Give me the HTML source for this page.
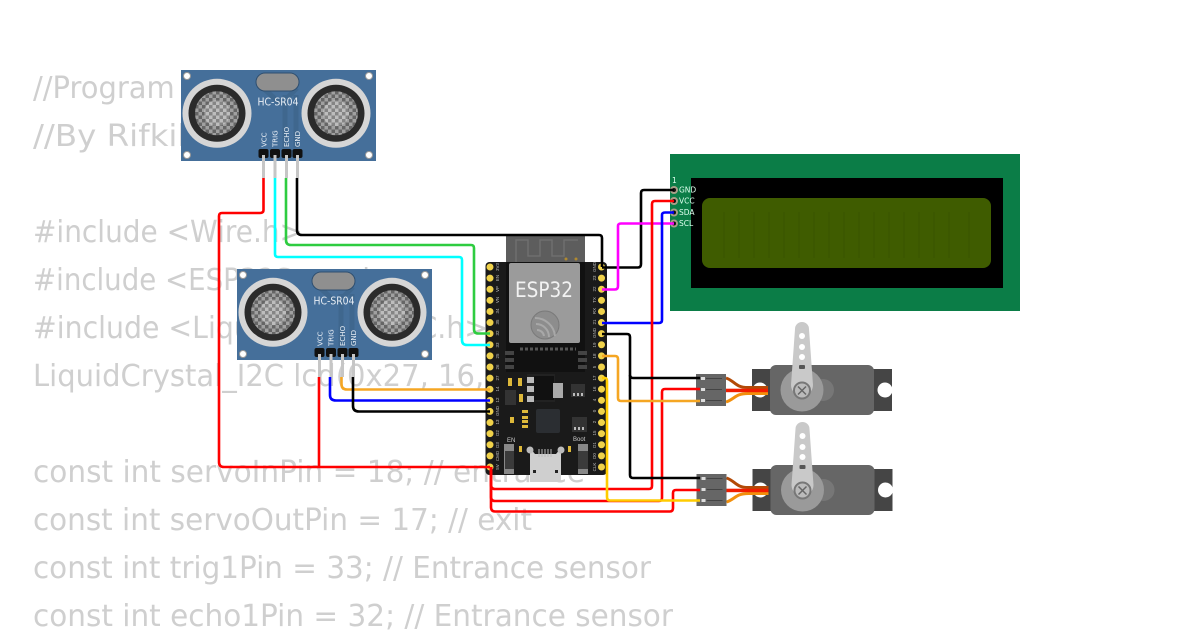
<!DOCTYPE html>
<html><head><meta charset="utf-8"><style>
html,body{margin:0;padding:0;background:#fff;width:1200px;height:630px;overflow:hidden}
svg{display:block}
.code{font-family:"DejaVu Sans",sans-serif;font-size:30px;fill:#cfcfcf}
.t{font-family:"Liberation Sans",sans-serif;fill:#ddd}
.d{font-family:"DejaVu Sans",sans-serif}
.w{fill:none;stroke-width:2.600;stroke-linejoin:round;stroke-linecap:butt}
</style></head><body>
<svg width="1200" height="630" viewBox="0 0 1200 630" xmlns="http://www.w3.org/2000/svg">
<defs>
<pattern id="mesh" width="7" height="7" patternUnits="userSpaceOnUse">
<rect width="7" height="7" fill="#a0a0a0"/><rect width="3.500" height="3.500" fill="#666"/><rect x="3.500" y="3.500" width="3.500" height="3.500" fill="#666"/>
</pattern>
<pattern id="mesh2" width="7" height="7" patternUnits="userSpaceOnUse">
<rect width="7" height="7" fill="#bdbdbd"/><rect width="3.500" height="3.500" fill="#858585"/><rect x="3.500" y="3.500" width="3.500" height="3.500" fill="#858585"/>
</pattern>
<g id="son">
<rect x="0" y="0" width="195" height="91" fill="#456f9a"/>
<path d="M82 18L100 34M116 18L104 30M115 25V78M104 25V78" stroke="#3f678e" stroke-width="5" fill="none"/>
<circle cx="6" cy="6" r="3.500" fill="#fff" stroke="#999"/><circle cx="188" cy="6" r="3.500" fill="#fff" stroke="#999"/>
<circle cx="6" cy="85" r="3.500" fill="#fff" stroke="#999"/><circle cx="188" cy="85" r="3.500" fill="#fff" stroke="#999"/>
<circle cx="36" cy="43.300" r="34.500" fill="#d6d6d6"/><circle cx="36" cy="43.300" r="28.500" fill="#2b2b2b"/><circle cx="36" cy="43.300" r="22" fill="url(#mesh)"/><circle cx="36" cy="43.300" r="13" fill="url(#mesh2)"/>
<circle cx="155" cy="43.300" r="34.500" fill="#d6d6d6"/><circle cx="155" cy="43.300" r="28.500" fill="#2b2b2b"/><circle cx="155" cy="43.300" r="22" fill="url(#mesh)"/><circle cx="155" cy="43.300" r="13" fill="url(#mesh2)"/>
<rect x="75" y="3" width="43" height="18" rx="9" fill="#8f8f8f" stroke="#2f4f70" stroke-width="1"/>
<rect x="77.500" y="79" width="10" height="9" rx="2" fill="#111"/><rect x="89" y="79" width="10" height="9" rx="2" fill="#111"/><rect x="100.500" y="79" width="10" height="9" rx="2" fill="#111"/><rect x="111.500" y="79" width="10" height="9" rx="2" fill="#111"/>
<rect x="81" y="85" width="3" height="23" fill="#c6c6c6"/><rect x="92.500" y="85" width="3" height="23" fill="#c6c6c6"/><rect x="104" y="85" width="3" height="23" fill="#c6c6c6"/><rect x="115" y="85" width="3" height="23" fill="#c6c6c6"/>
</g>
<g id="sv">
<rect x="752" y="369" width="140" height="42" fill="#454545"/>
<circle cx="760" cy="390" r="7.500" fill="#fff"/><circle cx="885" cy="390" r="7.500" fill="#fff"/>
<rect x="770" y="365" width="104" height="50" rx="6" fill="#666"/>
<circle cx="823" cy="390" r="11" fill="#777"/>
<circle cx="802" cy="390" r="21.500" fill="#9a9a9a"/>
<path d="M795 329a7 7 0 0 1 14 0L813 385a11 11 0 1 1-22 0Z" fill="#c9c9c9"/>
<circle cx="802" cy="336" r="3" fill="#fff"/><circle cx="802" cy="347" r="3" fill="#fff"/><circle cx="802" cy="357" r="3" fill="#fff"/>
<rect x="799" y="365" width="6" height="4" rx="1" fill="#555"/>
<circle cx="802" cy="390.500" r="8" fill="#bbb" stroke="#777" stroke-width="2"/>
<path d="M798 386.500L806 394.500M806 386.500L798 394.500" stroke="#666" stroke-width="1.500"/>
<path d="M726 378C735 381 735 387.500 748 387.500H768" fill="none" stroke="#b34a07" stroke-width="3"/>
<path d="M726 402C735 399 735 393.500 748 393.500H768" fill="none" stroke="#f28f0c" stroke-width="3"/>
<rect x="726" y="388.700" width="42" height="3.500" fill="#f01d00"/>
<rect x="696" y="374" width="30" height="32" fill="#666"/>
<rect x="701" y="377" width="4" height="3" fill="#ddd"/><rect x="701" y="388" width="4" height="3" fill="#ddd"/><rect x="701" y="399" width="4" height="3" fill="#ddd"/>
<path d="M706 378.500H722M706 389.500H722M706 400.500H722" stroke="#444" stroke-width="1"/>
</g>
</defs>

<text class="code" x="33" y="98" textLength="337" lengthAdjust="spacingAndGlyphs">//Program Parking Gate</text>
<text class="code" x="33" y="146" textLength="165" lengthAdjust="spacingAndGlyphs">//By Rifkih</text>
<text class="code" x="33" y="242" textLength="270" lengthAdjust="spacingAndGlyphs">#include &lt;Wire.h&gt;</text>
<text class="code" x="33" y="290" textLength="370" lengthAdjust="spacingAndGlyphs">#include &lt;ESP32Servo.h&gt;</text>
<text class="code" x="33" y="338" textLength="455" lengthAdjust="spacingAndGlyphs">#include &lt;LiquidCrystal_I2C.h&gt;</text>
<text class="code" x="33" y="386" textLength="500" lengthAdjust="spacingAndGlyphs">LiquidCrystal_I2C lcd(0x27, 16, 2);</text>
<text class="code" x="33" y="482" textLength="552" lengthAdjust="spacingAndGlyphs">const int servoInPin = 18; // entrance</text>
<text class="code" x="33" y="530" textLength="499" lengthAdjust="spacingAndGlyphs">const int servoOutPin = 17; // exit</text>
<text class="code" x="33" y="578" textLength="618" lengthAdjust="spacingAndGlyphs">const int trig1Pin = 33; // Entrance sensor</text>
<text class="code" x="33" y="626" textLength="640" lengthAdjust="spacingAndGlyphs">const int echo1Pin = 32; // Entrance sensor</text>

<!-- LCD -->
<rect x="670" y="154" width="350" height="157" fill="#0b7d47"/>
<rect x="691" y="178" width="312" height="110" fill="#000"/>
<rect x="702" y="198" width="289" height="70" rx="8" fill="#3f5c00"/>
<path d="M724 212V258M739 212V258M754 212V258M769 212V258M784 212V258M799 212V258M814 212V258M829 212V258M844 212V258M859 212V258M874 212V258M889 212V258M904 212V258M919 212V258M934 212V258M949 212V258M969 212V258" stroke="#3c5800" stroke-width="2"/>
<g fill="#a89f88"><circle cx="674" cy="190" r="4"/><circle cx="674" cy="201" r="4"/><circle cx="674" cy="212.500" r="4"/><circle cx="674" cy="223.500" r="4"/></g>
<g fill="#111"><circle cx="674" cy="190" r="2"/><circle cx="674" cy="201" r="2"/><circle cx="674" cy="212.500" r="2"/><circle cx="674" cy="223.500" r="2"/></g>
<g class="d" font-size="7.500" style="fill:#dfe"><text x="672" y="183">1</text><text x="679" y="192.500">GND</text><text x="679" y="203.500">VCC</text><text x="679" y="215">SDA</text><text x="679" y="226">SCL</text></g>

<!-- Sensors -->
<use href="#son" x="181" y="70"/>
<text class="d" x="257.500" y="105.500" font-size="10.500" textLength="41" lengthAdjust="spacingAndGlyphs" style="fill:#e8eef5">HC-SR04</text>
<g class="d" font-size="7" style="fill:#e8eef5">
<text transform="translate(266.500,147) rotate(-90)">VCC</text><text transform="translate(277.500,147) rotate(-90)">TRIG</text><text transform="translate(289,147) rotate(-90)">ECHO</text><text transform="translate(300,147) rotate(-90)">GND</text></g>
<use href="#son" x="237" y="269"/>
<text class="d" x="313.500" y="304.500" font-size="10.500" textLength="41" lengthAdjust="spacingAndGlyphs" style="fill:#e8eef5">HC-SR04</text>
<g class="d" font-size="7" style="fill:#e8eef5">
<text transform="translate(322.500,346) rotate(-90)">VCC</text><text transform="translate(333.500,346) rotate(-90)">TRIG</text><text transform="translate(345,346) rotate(-90)">ECHO</text><text transform="translate(356,346) rotate(-90)">GND</text></g>

<!-- ESP32 -->
<rect x="506" y="235" width="79" height="30" fill="#5d5d5d"/>
<path d="M516 262V240H528V256H540V240H552V256H564V240H578" fill="none" stroke="#6f6f6f" stroke-width="1.500"/>
<circle cx="566" cy="259" r="1.500" fill="#b08a30"/><circle cx="576" cy="259" r="1.500" fill="#b08a30"/>
<rect x="485.500" y="262" width="121.500" height="213" rx="4" fill="#1a1a1a"/>
<rect x="506" y="262" width="79" height="110" fill="#111"/>
<rect x="509" y="263" width="71" height="80" rx="2" fill="#9b9b9b"/>
<text class="d" x="515" y="297" font-size="21" textLength="58" lengthAdjust="spacingAndGlyphs" style="fill:#f2f2f2">ESP32</text>
<circle cx="545" cy="325" r="14" fill="#8d8d8d" stroke="#7a7a7a"/>
<path d="M535 318a20 20 0 0 1 20 18M536 324a13 13 0 0 1 13 13M537 330a7 7 0 0 1 7 6" fill="none" stroke="#a8a8a8" stroke-width="2"/>
<path d="M520 349H576" stroke="#555" stroke-width="3" stroke-dasharray="3 2"/>
<g fill="#444"><rect x="505" y="351" width="9" height="4"/><rect x="505" y="358" width="9" height="4"/><rect x="505" y="365" width="9" height="4"/><rect x="578" y="351" width="9" height="4"/><rect x="578" y="358" width="9" height="4"/><rect x="578" y="365" width="9" height="4"/></g>
<!-- board components -->
<rect x="527" y="374" width="28" height="28" fill="#222"/>
<g fill="#bbb"><rect x="527" y="377" width="7" height="6"/><rect x="527" y="386" width="7" height="6"/><rect x="527" y="396" width="7" height="6"/></g>
<rect x="534" y="376" width="20" height="24" fill="#111"/>
<rect x="553" y="383" width="10" height="15" fill="#aaa"/>
<g fill="#ddb83a"><rect x="508" y="378" width="4" height="8"/><rect x="518" y="378" width="4" height="8"/><rect x="519" y="394" width="4" height="8"/><rect x="510" y="417" width="4" height="6"/><rect x="522" y="410" width="6" height="3"/><rect x="522" y="416" width="6" height="3"/><rect x="522" y="420" width="6" height="3"/><rect x="522" y="425" width="6" height="3"/><rect x="519" y="446" width="3" height="6"/><rect x="568" y="446" width="3" height="6"/></g>
<rect x="505" y="390" width="11" height="15" fill="#333"/>
<rect x="536" y="409" width="24" height="24" rx="2" fill="#2b2e32"/>
<rect x="571" y="384" width="14" height="13" fill="#333"/><rect x="573" y="393" width="2" height="3" fill="#bbb"/><rect x="577" y="393" width="2" height="3" fill="#bbb"/><rect x="581" y="393" width="2" height="3" fill="#bbb"/>
<rect x="572" y="417" width="15" height="15" fill="#333"/><rect x="574" y="427" width="2" height="3" fill="#bbb"/><rect x="578" y="427" width="2" height="3" fill="#bbb"/><rect x="582" y="427" width="2" height="3" fill="#bbb"/>
<rect x="504" y="444" width="10" height="30" fill="#888"/><rect x="505" y="451" width="9" height="18" fill="#3b3b3b"/>
<rect x="578" y="444" width="10" height="30" fill="#888"/><rect x="578" y="451" width="10" height="18" fill="#3b3b3b"/>
<path d="M530 448V482H561V448L556 454H535Z" fill="#cfcfcf"/>
<circle cx="530" cy="450" r="3.500" fill="#bbb"/><circle cx="561" cy="450" r="3.500" fill="#bbb"/>
<path d="M539 449V457M542 449V457M545 449V457M548 449V457M551 449V457" stroke="#bbb" stroke-width="1"/>
<rect x="533" y="470" width="3" height="3" fill="#222"/><rect x="555" y="470" width="3" height="3" fill="#222"/>
<text class="t" x="507" y="442" font-size="6" style="fill:#ccc">EN</text><text class="t" x="573" y="441" font-size="6" style="fill:#ccc">Boot</text>
<!-- pins -->
<path d="M490 267V469M601.500 267V469" stroke="#f0d24a" stroke-width="7" stroke-linecap="round" stroke-dasharray="0 11.11" fill="none"/>
<g class="t" font-size="4.500" style="fill:#bbb" text-anchor="middle">
<text transform="translate(499,267) rotate(-90)">3V3</text><text transform="translate(499,278) rotate(-90)">EN</text><text transform="translate(499,289) rotate(-90)">VP</text><text transform="translate(499,300) rotate(-90)">VN</text><text transform="translate(499,311) rotate(-90)">34</text><text transform="translate(499,322) rotate(-90)">35</text><text transform="translate(499,333) rotate(-90)">32</text><text transform="translate(499,345) rotate(-90)">33</text><text transform="translate(499,356) rotate(-90)">25</text><text transform="translate(499,367) rotate(-90)">26</text><text transform="translate(499,378) rotate(-90)">27</text><text transform="translate(499,389) rotate(-90)">14</text><text transform="translate(499,400) rotate(-90)">12</text><text transform="translate(499,411) rotate(-90)">GND</text><text transform="translate(499,422) rotate(-90)">13</text><text transform="translate(499,433) rotate(-90)">D2</text><text transform="translate(499,445) rotate(-90)">D3</text><text transform="translate(499,456) rotate(-90)">CMD</text><text transform="translate(499,467) rotate(-90)">5V</text>
<text transform="translate(596,267) rotate(-90)">GND</text><text transform="translate(596,278) rotate(-90)">23</text><text transform="translate(596,289) rotate(-90)">22</text><text transform="translate(596,300) rotate(-90)">TX</text><text transform="translate(596,311) rotate(-90)">RX</text><text transform="translate(596,322) rotate(-90)">21</text><text transform="translate(596,333) rotate(-90)">GND</text><text transform="translate(596,345) rotate(-90)">19</text><text transform="translate(596,356) rotate(-90)">18</text><text transform="translate(596,367) rotate(-90)">5</text><text transform="translate(596,378) rotate(-90)">17</text><text transform="translate(596,389) rotate(-90)">16</text><text transform="translate(596,400) rotate(-90)">4</text><text transform="translate(596,411) rotate(-90)">0</text><text transform="translate(596,422) rotate(-90)">2</text><text transform="translate(596,433) rotate(-90)">15</text><text transform="translate(596,445) rotate(-90)">D1</text><text transform="translate(596,456) rotate(-90)">D0</text><text transform="translate(596,467) rotate(-90)">CLK</text>
</g>

<!-- Servos -->
<use href="#sv"/>
<use href="#sv" x="0.500" y="100"/>

<!-- Wires -->
<path class="w" stroke="#f00" d="M263.500 178V210Q263.500 213 260 213H222Q219 213 219 216V462Q219 467 224 467H490"/>
<path class="w" stroke="#0ff" d="M275 178V254Q275 257 278 257H459Q462 257 462 260V340Q462 345 467 345H490"/>
<path class="w" stroke="#2ecc40" d="M286 178V240Q286 245 291 245H471Q474 245 474 248V329Q474 333.500 478 333.500H490"/>
<path class="w" stroke="#000" d="M297 178V230Q297 235 302 235H599Q602 235 602 238V267"/>
<path class="w" stroke="#f00" d="M319 377V467"/>
<path class="w" stroke="#00f" d="M330 377V395Q330 400.500 336 400.500H490"/>
<path class="w" stroke="#f5a623" d="M341.500 377V384Q341.500 389.500 347 389.500H490"/>
<path class="w" stroke="#000" d="M353 377V406Q353 411.500 359 411.500H490"/>
<path class="w" stroke="#000" d="M602 267.500H638Q641 267.500 641 264V193Q641 190 644 190H674"/>
<path class="w" stroke="#f0f" d="M602 289.500H615Q618 289.500 618 286V226Q618 223.500 621 223.500H674"/>
<path class="w" stroke="#00f" d="M602 323H659Q662 323 662 320V215Q662 212.500 665 212.500H674"/>
<path class="w" stroke="#f00" d="M491 467V485Q491 489 495 489H649Q652 489 652 486V204Q652 201 655 201H674"/>
<path class="w" stroke="#f00" d="M491 467V497Q491 501 495 501H659Q662 501 662 498V392Q662 389 665 389H700"/>
<path class="w" stroke="#f00" d="M491 467V507Q491 511.500 495 511.500H670Q673 511.500 673 508V493Q673 490 676 490H700"/>
<path class="w" stroke="#000" d="M602 334H627Q630 334 630 337V375Q630 378 633 378H700"/>
<path class="w" stroke="#000" d="M630 375V475Q630 478 633 478H700"/>
<path class="w" stroke="#f5a623" d="M602 356H615Q618 356 618 359V398Q618 401 621 401H700"/>
<path class="w" stroke="#fc0" d="M602 378H605Q607 378 607 381V497Q607 500.500 610 500.500H700"/>
</svg>
</body></html>
